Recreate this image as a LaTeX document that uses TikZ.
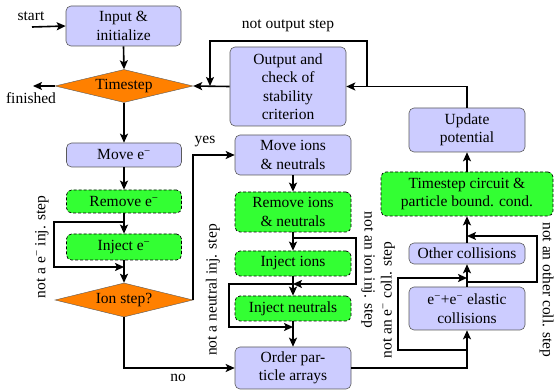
\documentclass[tikz,border=0pt]{standalone}
\usepackage{fontspec}
\setmainfont{Liberation Serif}
\usetikzlibrary{shapes.geometric,arrows.meta}
\definecolor{lav}{RGB}{204,204,255}
\definecolor{grn}{RGB}{51,255,51}
\definecolor{org}{RGB}{255,128,0}
\definecolor{edg}{RGB}{90,90,90}
\newcommand{\el}{e\textsuperscript{−}}
\begin{document}
\begin{tikzpicture}[x=1pt,y=-1pt,
  font=\fontsize{15.5}{18.5}\selectfont,
  proc/.style={rectangle,rounded corners=5pt,draw=edg,line width=0.6pt,fill=lav,
    align=center,inner sep=2pt,minimum width=115pt},
  dproc/.style={proc,fill=grn,draw=black,line width=0.7pt,dashed,dash pattern=on 3pt off 2pt},
  dec/.style={diamond,draw=edg,line width=0.4pt,fill=org,inner sep=0pt,aspect=4.2,
    minimum width=138pt,minimum height=33pt},
  arr/.style={line width=1.6pt,-{Stealth[length=9pt,width=8pt,inset=2pt]}},
  lbl/.style={inner sep=0pt}]
\useasboundingbox (0,0) rectangle (555,390);
% nodes
\node[proc,minimum height=40pt] (inp) at (123.5,26) {Input \&\\initialize};
\node[dec] (ts) at (124,86) {Timestep};
\node[proc,minimum width=116pt,minimum height=79pt] (out) at (288,86.5) {Output and\\check of\\stability\\criterion};
\node[proc,minimum width=116pt,minimum height=44pt] (upd) at (467,130) {Update\\potential};
\node[proc,minimum height=24pt] (me) at (124,155) {Move \el};
\node[dproc,minimum height=23pt] (re) at (124,201.5) {Remove \el};
\node[dproc,minimum height=26pt] (ie) at (124,247) {Inject \el};
\node[dec,minimum height=34pt] (is) at (124,300) {Ion step?};
\node[proc,minimum width=116pt,minimum height=40pt] (mi) at (293,155) {Move ions\\\& neutrals};
\node[dproc,minimum width=116pt,minimum height=40pt] (ri) at (293,212) {Remove ions\\\& neutrals};
\node[dproc,minimum width=116pt,minimum height=25pt] (ii) at (293,263.5) {Inject ions};
\node[dproc,minimum width=116pt,minimum height=25pt] (inn) at (293,308.5) {Inject neutrals};
\node[proc,minimum width=116pt,minimum height=42pt] (oa) at (293,368) {Order par-\\ticle arrays};
\node[dproc,minimum width=172pt,minimum height=44pt] (tc) at (467,194) {Timestep circuit \&\\particle bound. cond.};
\node[proc,minimum width=116pt,minimum height=21pt] (oc) at (467,253.5) {Other collisions};
\node[proc,minimum width=116pt,minimum height=43pt] (elc) at (467,308.5) {\el+\el{} elastic\\collisions};
% coordinates
\coordinate (st) at (32,27);
\coordinate (fin) at (33,86);
\coordinate (nob) at (367,86);
\coordinate (noa) at (210,86);
\coordinate (el1) at (124,222);
\coordinate (el2) at (124,267);
\coordinate (il1) at (293,238);
\coordinate (il2) at (293,284);
\coordinate (nl1) at (293,284);
\coordinate (nl2) at (293,327);
\coordinate (cl1) at (467,350);
\coordinate (cl2) at (467,278);
\coordinate (ol1) at (467,282);
\coordinate (ol2) at (467,236);
% labels
\node[lbl] (lst) at (31,16) {start};
\node[lbl] (lfin) at (31,98) {finished};
\node[lbl] (lno) at (288,26) {not output step};
\node[lbl] (lyes) at (205,142) {yes};
\node[lbl] (lnoo) at (178,378) {no};
\node[lbl,rotate=90] (le) at (42,247) {not a \el{} inj. step};
\node[lbl,rotate=90] (ln) at (213,290) {not a neutral inj. step};
\node[lbl,rotate=-90] (li) at (368,270) {not an ion inj. step};
\node[lbl,rotate=90] (lc) at (388,300) {not an \el{} coll. step};
\node[lbl,rotate=-90] (lo) at (546.5,290) {not an other coll. step};
% connectors
\draw[arr] (st) -- (inp.west);
\draw[arr] (ts.west) -- (fin);
\draw[arr] (inp.south) -- (ts.north);
\draw[arr] (out.west) -- (ts.east);
\draw[arr] (upd.north) |- (out.east);
\draw[arr] (nob) -- ++(0,-45) -| (noa);
\draw[arr] (ts.south) -- (me.north);
\draw[arr] (me.south) -- (re.north);
\draw[arr] (re.south) -- (ie.north);
\draw[arr] (el1) -| ++(-70,45) -- (el2);
\draw[arr] (ie.south) -- (is.north);
\draw[arr] (is.east) |- (mi.west);
\draw[arr] (is.south) |- (oa.west);
\draw[arr] (mi.south) -- (ri.north);
\draw[arr] (ri.south) -- (ii.north);
\draw[arr] (il1) -| ++(63,46) -- (il2);
\draw[arr] (ii.south) -- (inn.north);
\draw[arr] (nl1) -| ++(-64,43) -- (nl2);
\draw[arr] (inn.south) -- (oa.north);
\draw[arr] (oa.east) -| (elc.south);
\draw[arr] (elc.north) -- (oc.south);
\draw[arr] (cl1) -| ++(-69,-72) -- (cl2);
\draw[arr] (ol1) -| ++(70,-46) -- (ol2);
\draw[arr] (oc.north) -- (tc.south);
\draw[arr] (tc.north) -- (upd.south);
\end{tikzpicture}
\end{document}
